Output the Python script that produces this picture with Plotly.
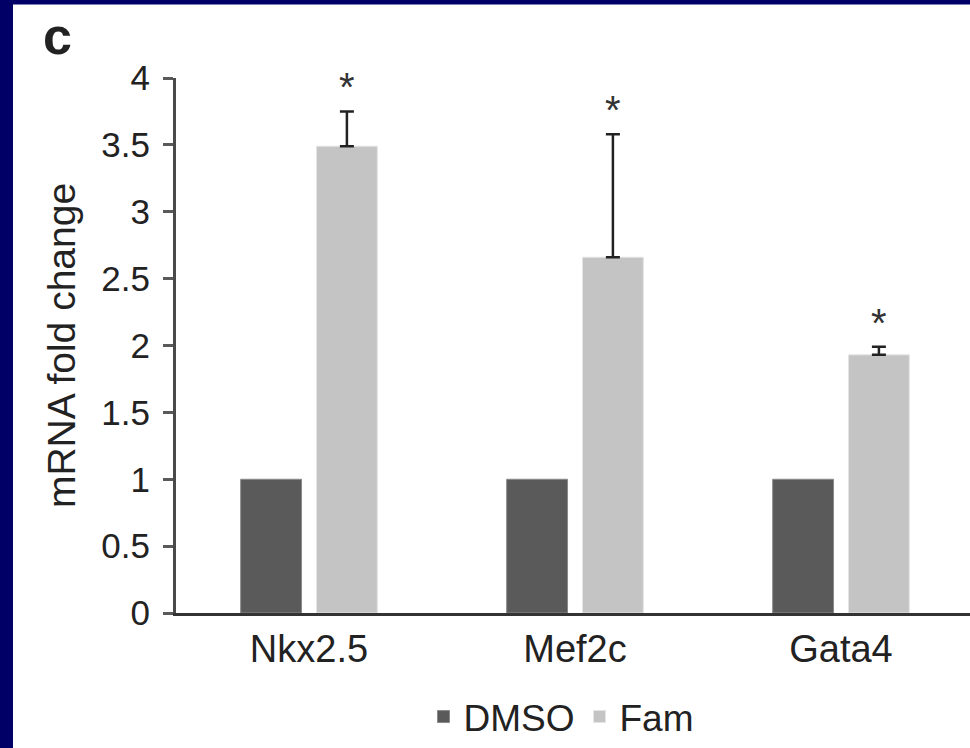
import plotly.graph_objects as go

# qPCR fold change of cardiac transcription factors
genes = ["Nkx2.5", "Mef2c", "Gata4"]
dmso = [1.0, 1.0, 1.0]
fam = [3.49, 2.66, 1.93]
fam_err = [0.26, 0.92, 0.06]
y_ticks = [0, 0.5, 1, 1.5, 2, 2.5, 3, 3.5, 4]
y_tick_text = ["0", "0.5", "1", "1.5", "2", "2.5", "3", "3.5", "4"]

W, H = 970, 748
ML, MR, MT, MB = 176, 0, 78, 132
FONT = "Liberation Sans, Arial, sans-serif"
TXT = "#222222"
BARGAP = 0.43
GROUPGAP = 0.197

fig = go.Figure()
fig.add_trace(go.Bar(
    name="DMSO", x=genes, y=dmso,
    marker=dict(color="#5a5a5a", line=dict(color="#8a8a8a", width=1)),
))
fig.add_trace(go.Bar(
    name="Fam", x=genes, y=fam,
    marker=dict(color="#c4c4c4", line=dict(color="#e4e4e4", width=1)),
    error_y=dict(type="data", array=fam_err, arrayminus=[0] * len(fam_err),
                 symmetric=False, color="#222222", thickness=2.5, width=7),
))

# significance stars above the Fam error bars
fam_offset = (1 - BARGAP) / 4
for i, (v, e) in enumerate(zip(fam, fam_err)):
    fig.add_annotation(
        x=i + fam_offset, y=v + e, xref="x", yref="y",
        text="*", showarrow=False, yanchor="bottom", yshift=0,
        font=dict(family=FONT, size=40, color="#333333"),
    )

pw, ph = W - ML - MR, H - MT - MB

# panel letter
fig.add_annotation(
    x=(57 - ML) / pw, y=(H - MB - 36) / ph,
    xref="paper", yref="paper", text="<b>c</b>", showarrow=False,
    xanchor="center", yanchor="middle",
    font=dict(family=FONT, size=52, color=TXT),
)

# navy frame on the top and left edges of the page
fig.add_shape(type="rect", xref="paper", yref="paper", layer="below",
              x0=(13 - ML) / pw, x1=(W - ML) / pw + 0.01,
              y0=(H - MB - H) / ph - 0.01, y1=(H - MB - 4) / ph,
              fillcolor="white", line=dict(width=0))

fig.update_layout(
    width=W, height=H,
    margin=dict(l=ML, r=MR, t=MT, b=MB, pad=0),
    paper_bgcolor="#000066", plot_bgcolor="white",
    barmode="group", bargap=BARGAP, bargroupgap=GROUPGAP,
    font=dict(family=FONT, size=36, color=TXT),
    showlegend=True,
    legend=dict(orientation="h", x=(561 - ML) / pw, xanchor="center",
                y=(H - MB - 721) / ph, yanchor="middle",
                font=dict(family=FONT, size=37, color=TXT),
                bgcolor="rgba(0,0,0,0)", itemwidth=30, tracegroupgap=0),
    xaxis=dict(range=[-0.5, 2.5 - 4 / 266], showline=True, linecolor="#333333",
               linewidth=3, ticks="", showgrid=False, zeroline=False,
               tickfont=dict(family=FONT, size=38, color=TXT)),
    yaxis=dict(range=[0, 4], tickvals=y_ticks, ticktext=y_tick_text,
               showline=True, linecolor="#4a4a4a", linewidth=3,
               ticks="outside", ticklen=10, tickwidth=3, tickcolor="#5a5a5a",
               ticklabelstandoff=6,
               showgrid=False, zeroline=False,
               tickfont=dict(family=FONT, size=35, color=TXT),
               title=dict(text="mRNA fold change", standoff=14,
                          font=dict(family=FONT, size=39, color=TXT))),
)

fig.write_html("out.html")
